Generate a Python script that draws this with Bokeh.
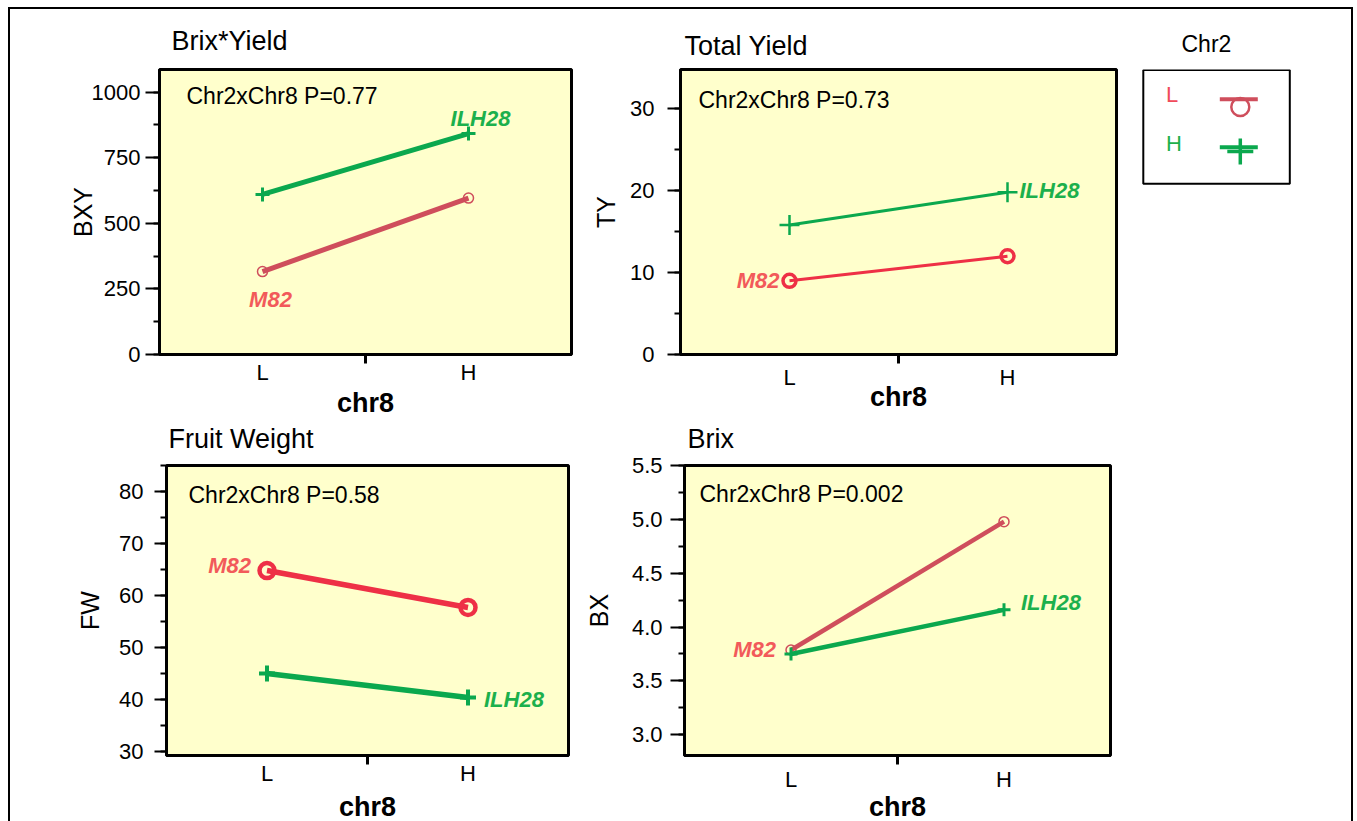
from bokeh.plotting import figure
from bokeh.models import (Range1d, FixedTicker, SingleIntervalTicker, Label,
                          NumeralTickFormatter, BasicTickFormatter, BoxAnnotation,
                          Div, Spacer)
from bokeh.layouts import row, column
from bokeh.embed import file_html
from bokeh.resources import INLINE

# ---------------- data ----------------
chr8 = ["L", "H"]            # x categories
chr2 = ["L", "H"]            # series (legend)
strain_labels = ["M82", "ILH28"]

bxy_L = [316, 596]
bxy_H = [610, 842]
ty_L = [9.0, 12.0]
ty_H = [15.8, 19.8]
fw_L = [64.8, 57.7]
fw_H = [45.0, 40.4]
bx_L = [3.787, 4.98]
bx_H = [3.75, 4.16]

titles = ["Brix*Yield", "Total Yield", "Fruit Weight", "Brix"]
ylabels = ["BXY", "TY", "FW", "BX"]
xlabel = "chr8"
p_values = ["0.77", "0.73", "0.58", "0.002"]

FONT = "Liberation Sans"
YELLOW = "#FFFFCC"
GREEN = "#0BA84E"
GREEN_TXT = "#1CB04C"
RED_DARK = "#CF4E5C"
RED_BRIGHT = "#EE3046"
RED_TXT = "#F25A5A"

xpos = [i + 1 for i in range(len(chr8))]


def panel(cfg):
    p = figure(width=cfg["w"], height=cfg["h"],
               x_range=Range1d(0.5, 2.5), y_range=Range1d(*cfg["yr"]),
               toolbar_location=None, output_backend="svg",
               min_border_left=cfg["mb"][0], min_border_right=cfg["mb"][1],
               min_border_top=cfg["mb"][2], min_border_bottom=cfg["mb"][3])
    p.title.text = cfg["title"]
    p.title.align = "left"
    p.title.offset = cfg["toff"]
    p.title.standoff = cfg["tstand"]
    p.title.text_font = FONT
    p.title.text_font_size = "27px"
    p.title.text_font_style = "normal"
    p.title.text_color = "black"
    p.background_fill_color = YELLOW
    p.border_fill_color = "white"
    p.border_fill_alpha = cfg.get("bfa", 1.0)
    p.outline_line_color = "black"
    p.outline_line_width = 3
    p.grid.visible = False

    xa = p.xaxis[0]
    xa.ticker = FixedTicker(ticks=xpos, minor_ticks=[1.5])
    xa.major_label_overrides = {x: c for x, c in zip(xpos, chr8)}
    xa.major_tick_line_color = None
    xa.major_tick_out = 0
    xa.major_tick_in = 0
    xa.minor_tick_out = 9
    xa.minor_tick_in = 0
    xa.minor_tick_line_width = 3
    xa.minor_tick_line_color = "black"
    xa.axis_line_width = 3
    xa.axis_line_color = "black"
    xa.major_label_text_font = FONT
    xa.major_label_text_font_size = "22px"
    xa.major_label_text_color = "black"
    xa.major_label_standoff = cfg["xls"]
    xa.axis_label = xlabel
    xa.axis_label_text_font = FONT
    xa.axis_label_text_font_size = "27px"
    xa.axis_label_text_font_style = "bold"
    xa.axis_label_text_color = "black"
    xa.axis_label_standoff = cfg["xas"]

    ya = p.yaxis[0]
    ya.ticker = SingleIntervalTicker(interval=cfg["yint"], num_minor_ticks=2)
    ya.formatter = cfg["fmt"]
    ya.axis_line_width = 3
    ya.axis_line_color = "black"
    ya.major_tick_line_width = 2
    ya.major_tick_out = cfg["ytick"]
    ya.major_tick_in = 0
    ya.minor_tick_line_width = 2
    ya.minor_tick_out = 6
    ya.minor_tick_in = 0
    ya.major_label_text_font = FONT
    ya.major_label_text_font_size = "22px"
    ya.major_label_text_color = "black"
    ya.major_label_standoff = cfg["yls"]
    ya.axis_label = cfg["ylabel"]
    ya.axis_label_text_font = FONT
    ya.axis_label_text_font_size = "25px"
    ya.axis_label_text_font_style = "normal"
    ya.axis_label_text_color = "black"
    ya.axis_label_standoff = cfg["yas"]

    fh = cfg["h"] - cfg["mb"][2] - cfg["mb"][3]

    red = cfg["red"]
    p.line(xpos, cfg["L"], line_color=red, line_width=cfg["lw"])
    p.scatter(xpos, cfg["L"], marker="circle", size=cfg["cs"], line_color=red,
              fill_color=None, line_width=cfg["clw"])
    p.line(xpos, cfg["H"], line_color=GREEN, line_width=cfg["lw"])
    p.scatter(xpos, cfg["H"], marker="cross", size=cfg["ps"], line_color=GREEN,
              line_width=cfg["plw"])

    p.add_layout(Label(x=cfg["ann"][0], y=fh - cfg["ann"][1], x_units="screen",
                       y_units="screen", text="Chr2xChr8 P=" + cfg["pv"],
                       text_font=FONT, text_font_size="23px",
                       text_baseline="middle", text_color="black"))

    ix, dx, dy, al = cfg["m82"]
    p.add_layout(Label(x=xpos[ix], y=cfg["L"][ix], x_offset=dx, y_offset=dy,
                       text=strain_labels[0], text_font=FONT, text_font_size="22px",
                       text_font_style="bold italic", text_color=RED_TXT,
                       text_align=al, text_baseline="middle"))
    ix, dx, dy, al = cfg["ilh"]
    p.add_layout(Label(x=xpos[ix], y=cfg["H"][ix], x_offset=dx, y_offset=dy,
                       text=strain_labels[1], text_font=FONT, text_font_size="22px",
                       text_font_style="bold italic", text_color=GREEN_TXT,
                       text_align=al, text_baseline="middle"))
    return p


# row 1: y 9..421, frame 69..354 ; row 2: y 410..830 (overlaps by 11), frame 464..755
H1, H2 = 412, 420
MB1 = (60, 67)
MB2 = (54, 75)
OVERLAP = 11

p1 = panel(dict(w=570, h=H1, yr=(0, 1086), mb=(149, 9) + MB1, title=titles[0],
                toff=12, tstand=27, xls=-4, xas=0, yint=250, ytick=14, yls=5,
                yas=-8, fmt=BasicTickFormatter(), ylabel=ylabels[0], red=RED_DARK,
                L=bxy_L, H=bxy_H, lw=5, cs=10, clw=1.5, ps=14, plw=3,
                ann=(27, 26), pv=p_values[0],
                m82=(0, 8, -28, "center"), ilh=(1, 12, 15, "center")))
p2 = panel(dict(w=555, h=H1, yr=(0, 34.8), mb=(100, 19) + MB1, title=titles[1],
                toff=4, tstand=18, xls=1, xas=-11, yint=10, ytick=13, yls=13,
                yas=7, fmt=BasicTickFormatter(), ylabel=ylabels[1], red=RED_BRIGHT,
                L=ty_L, H=ty_H, lw=3, cs=13, clw=3.5, ps=20, plw=2.5,
                ann=(18, 30), pv=p_values[1],
                m82=(0, -10, 0, "right"), ilh=(1, 12, 2, "left")))
p3 = panel(dict(w=570, h=H2, yr=(29.23, 85.0), mb=(156, 12) + MB2, title=titles[2],
                toff=2, tstand=23, xls=-4, xas=3, yint=10, ytick=12, yls=11,
                yas=12, fmt=BasicTickFormatter(), ylabel=ylabels[2], red=RED_BRIGHT,
                L=fw_L, H=fw_H, lw=5.5, cs=15, clw=4.5, ps=16, plw=4,
                ann=(22, 30), pv=p_values[2], bfa=0.0,
                m82=(0, -16, 5, "right"), ilh=(1, 16, -2, "left")))
p4 = panel(dict(w=555, h=H2, yr=(2.806, 5.502), mb=(104, 25) + MB2, title=titles[3],
                toff=3, tstand=23, xls=2, xas=-3, yint=0.5, ytick=14, yls=8,
                yas=16, fmt=NumeralTickFormatter(format="0.0"), ylabel=ylabels[3],
                red=RED_DARK, L=bx_L, H=bx_H, lw=4.5, cs=10, clw=1.5, ps=13, plw=3,
                ann=(15, 29), pv=p_values[3], bfa=0.0,
                m82=(0, -15, 0, "right"), ilh=(1, 17, 7, "left")))

# ---------------- legend panel (frame in pixel units) ----------------
LW, LH = 216, H1 - MB1[0] - MB1[1]
leg = figure(width=LW, height=H1, x_range=Range1d(0, LW), y_range=Range1d(0, LH),
             toolbar_location=None, output_backend="svg",
             x_axis_location=None, y_axis_location=None,
             min_border_left=0, min_border_right=0,
             min_border_top=MB1[0], min_border_bottom=MB1[1])
leg.grid.visible = False
leg.outline_line_color = None
leg.background_fill_color = "white"
leg.title.text = "Chr2"
leg.title.align = "left"
leg.title.offset = 46
leg.title.standoff = 25
leg.title.text_font = FONT
leg.title.text_font_size = "23px"
leg.title.text_font_style = "normal"
leg.title.text_color = "black"
leg.add_layout(BoxAnnotation(left=7.8, right=154.3, top=LH - 0.5, bottom=LH - 114.3,
                             fill_alpha=0, line_color="black", line_alpha=1,
                             line_width=2))
leg_line_colors = [RED_DARK, GREEN]
leg_text_colors = ["#F04B5A", "#1DB04B"]
leg_markers = ["circle", "cross"]
leg_msize = [18, 26]
leg_mlw = [2.5, 3.5]
leg_mdrop = [7.8, 4.3]
for i, lab in enumerate(chr2):
    yl = LH - 29.7 - 48.0 * i
    leg.segment(x0=[84.3], y0=[yl], x1=[122.3], y1=[yl],
                line_color=leg_line_colors[i], line_width=4)
    leg.scatter(x=[104.8], y=[yl - leg_mdrop[i]], marker=leg_markers[i],
                size=leg_msize[i], line_color=leg_line_colors[i], fill_color=None,
                line_width=leg_mlw[i])
    leg.add_layout(Label(x=30.5, y=yl + 5.2 - 1.7 * i, text=lab, text_font=FONT,
                         text_font_size="22px", text_color=leg_text_colors[i],
                         text_baseline="middle"))

# ---------------- page with outer frame ----------------
row1 = row(p1, p2, leg)
row2 = row(p3, p4, margin=(-OVERLAP, 0, 0, 0))
content = column(row1, row2)
black = {"background-color": "black"}
top_line = Div(text="", width=1345, height=2, margin=0, styles=black)
left_line = Div(text="", width=2, height=812, margin=0, styles=black)
right_line = Div(text="", width=2, height=812, margin=0, styles=black)
page = column(Spacer(width=1, height=7),
              row(Spacer(width=8, height=2), top_line),
              row(Spacer(width=8, height=812), left_line, content, right_line),
              width=1357, height=821, styles={"overflow": "hidden"})

open("out.html", "w").write(file_html(page, INLINE))
